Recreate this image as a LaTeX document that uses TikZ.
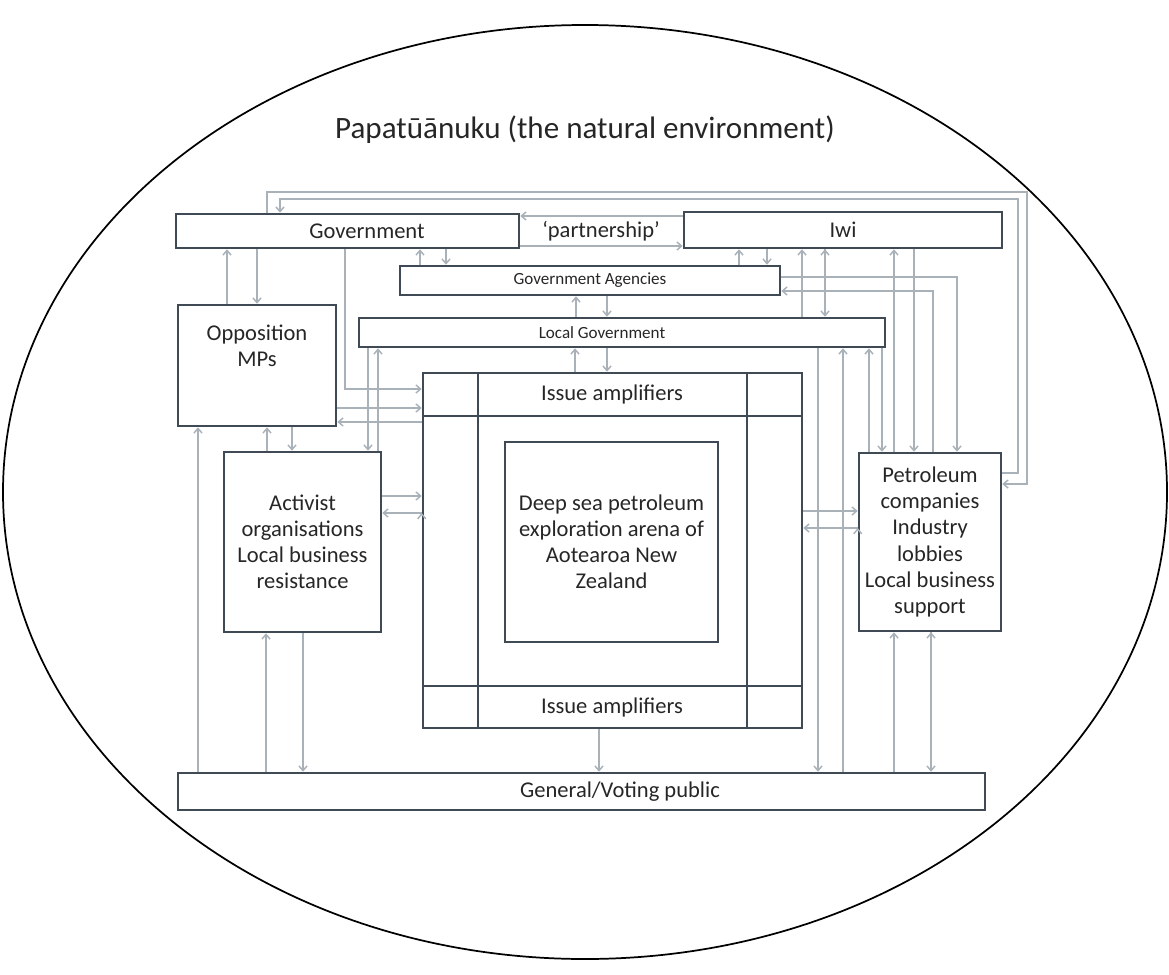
\documentclass[tikz,border=0pt]{standalone}
\usepackage{fontspec}
\setmainfont{Carlito}
\usetikzlibrary{arrows.meta}
\definecolor{boxline}{HTML}{3F4A55}
\definecolor{flowline}{HTML}{A9B1B9}
\definecolor{inktext}{HTML}{262626}
\begin{document}
\begin{tikzpicture}[x=0.75pt,y=-0.75pt,>={Straight Barb[length=3.5pt,width=6pt]},
    box/.style={draw=boxline, line width=1.9pt, inner sep=0pt},
    boxsize/.style 2 args={minimum width=#1*0.75pt, minimum height=#2*0.75pt},
    txt/.style={text=inktext, align=center, inner sep=0pt,
      font=\fontsize{16.9}{19.6}\selectfont},
    small/.style={txt, font=\fontsize{12.8}{15}\selectfont},
    flow/.style={->, draw=flowline, line width=1.1pt}]
    \useasboundingbox (0,0) rectangle (1169,974);
    \draw[line width=1.3pt] (585,492) ellipse [x radius=582, y radius=467];
    \node[txt, font=\fontsize{23.3}{28}\selectfont] (title) at (585,130)
        {Papatūānuku (the natural environment)};
    % actors
    \node[box, boxsize={343}{34}] (gov) at (347.5,231) {};
    \node[txt] (govtext) at (367,231) {Government};
    \node[txt] (partner) at (601,231) {`partnership'};
    \node[box, txt, boxsize={318}{36}] (iwi) at (843,230) {Iwi};
    \node[box, small, boxsize={380}{29}] (agy) at (590,280.5) {Government Agencies};
    \node[box, boxsize={526}{29}] (lgov) at (622,332.5) {};
    \node[small] (lgovtext) at (602,332.5) {Local Government};
    \node[box, boxsize={158}{121}] (opp) at (257,365.5) {};
    \node[txt] (opptext) at (257,346) {Opposition\\MPs};
    \node[box, txt, boxsize={157}{180}] (act) at (302.5,542)
        {Activist\\organisations\\Local business\\resistance};
    \node[box, txt, boxsize={142}{178}] (pet) at (930,542)
        {Petroleum\\companies\\Industry\\lobbies\\Local business\\support};
    \node[box, boxsize={807}{37}] (pub) at (581.5,791.5) {};
    \node[txt] (pubtext) at (620,791.5) {General/Voting public};
    % arena with its amplifier frame
    \node[box, boxsize={379}{355}] (arena) at (612.5,550.5) {};
    \draw[boxline, line width=1.9pt]
        (478,373) -- (478,728) (747,373) -- (747,728)
        (423,416) -- (802,416) (423,686) -- (802,686);
    \node[txt] (amptop) at (612,394.5) {Issue amplifiers};
    \node[txt] (ampbot) at (612,707) {Issue amplifiers};
    \node[box, txt, boxsize={213}{200}] (deep) at (611.5,542)
        {Deep sea petroleum\\exploration arena of\\Aotearoa New\\Zealand};
    % loops round the outside
    \draw[flow] (267,0 |- gov.north) |- (1027,192) |- (pet.east |- 0,484);
    \draw[flow] (pet.east |- 0,473) -| (1018,199) -| (280,0 |- gov.north);
    \draw[flow] (345,0 |- gov.south) |- (arena.west |- 0,389);
    \draw[flow] (933,0 |- pet.north) |- (agy.east |- 0,291);
    \draw[flow] (agy.east |- 0,277) -| (957,0 |- pet.north);
    % straight links
    \path[flow]
        (iwi.west |- 0,216) edge (gov.east |- 0,216)
        (gov.east |- 0,246) edge (iwi.west |- 0,246)
        (227,0 |- opp.north) edge (227,0 |- gov.south)
        (257,0 |- gov.south) edge (257,0 |- opp.north)
        (420,0 |- agy.north) edge (420,0 |- gov.south)
        (446,0 |- gov.south) edge (446,0 |- agy.north)
        (739,0 |- agy.north) edge (739,0 |- iwi.south)
        (767,0 |- iwi.south) edge (767,0 |- agy.north)
        (576,0 |- lgov.north) edge (576,0 |- agy.south)
        (607,0 |- agy.south) edge (607,0 |- lgov.north)
        (802,0 |- lgov.north) edge (802,0 |- iwi.south)
        (825,0 |- iwi.south) edge (825,0 |- lgov.north);
    \path[flow]
        (opp.east |- 0,408) edge (arena.west |- 0,408)
        (arena.west |- 0,422) edge (opp.east |- 0,422)
        (267,0 |- act.north) edge (267,0 |- opp.south)
        (292,0 |- opp.south) edge (292,0 |- act.north)
        (368,0 |- lgov.south) edge (368,0 |- act.north)
        (378,0 |- act.north) edge (378,0 |- lgov.south)
        (198,0 |- pub.north) edge (198,0 |- opp.south)
        (266,0 |- pub.north) edge (266,0 |- act.south)
        (303,0 |- act.south) edge (303,0 |- pub.north)
        (act.east |- 0,496) edge (arena.west |- 0,496)
        (arena.west |- 0,513) edge (act.east |- 0,513);
    \path[flow]
        (575,0 |- arena.north) edge (575,0 |- lgov.south)
        (607,0 |- lgov.south) edge (607,0 |- arena.north)
        (599,0 |- arena.south) edge (599,0 |- pub.north)
        (arena.east |- 0,511) edge (pet.west |- 0,511)
        (pet.west |- 0,528) edge (arena.east |- 0,528);
    \path[flow]
        (818,0 |- lgov.south) edge (818,0 |- pub.north)
        (843,0 |- pub.north) edge (843,0 |- lgov.south)
        (869,0 |- pet.north) edge (869,0 |- lgov.south)
        (882,0 |- lgov.south) edge (882,0 |- pet.north)
        (894,0 |- pet.north) edge (894,0 |- iwi.south)
        (914,0 |- iwi.south) edge (914,0 |- pet.north)
        (894,0 |- pub.north) edge (894,0 |- pet.south)
        (931,0 |- pet.south) edge (931,0 |- pub.north);
\end{tikzpicture}
\end{document}
